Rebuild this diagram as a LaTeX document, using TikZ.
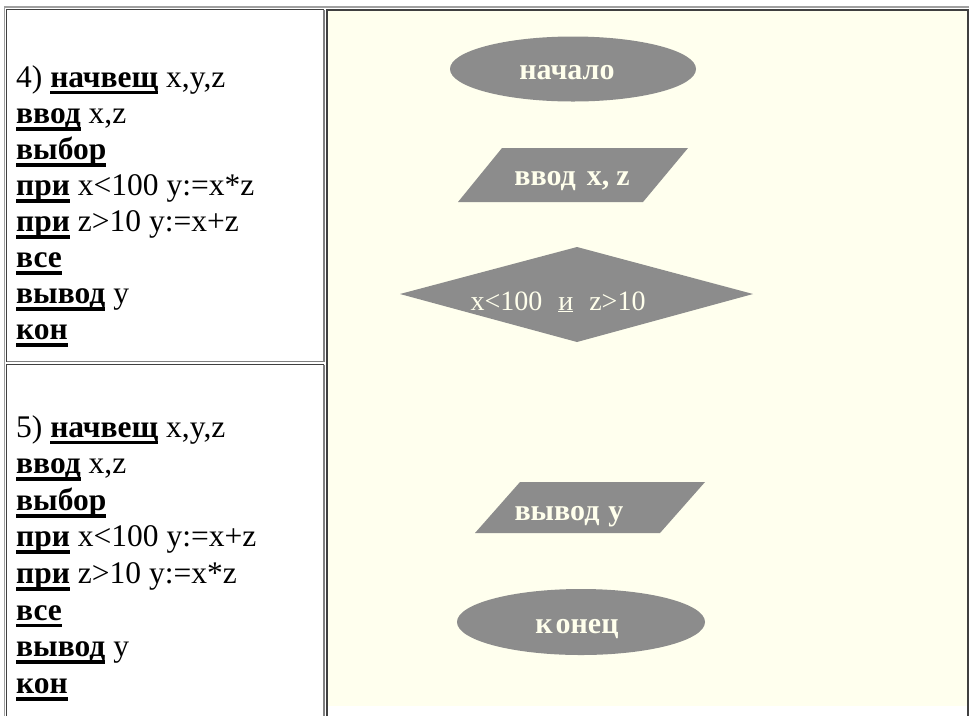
\documentclass[tikz,border=0pt]{standalone}
\usepackage{fontspec}
\setmainfont{Liberation Serif}
\definecolor{bgyellow}{RGB}{255,255,238}
\definecolor{shapegray}{RGB}{140,140,140}
\definecolor{shapetxt}{RGB}{255,255,236}
\definecolor{borderdark}{RGB}{64,64,64}
\definecolor{bordermid}{RGB}{128,128,128}
\definecolor{borderlight}{RGB}{160,160,160}
\newcommand\kw[1]{\sbox0{\bfseries #1}\rlap{\usebox0}\rule[-7.4pt]{\wd0}{3.8pt}}
\begin{document}
\begin{tikzpicture}[x=1pt,y=-1pt,
  codeline/.style={anchor=base west, inner sep=0pt, font=\fontsize{31.5}{36}\selectfont},
  shapetext/.style={anchor=base, inner sep=0pt, text=shapetxt, font=\fontsize{30}{30}\selectfont\bfseries},
  condtext/.style={anchor=base, inner sep=0pt, text=shapetxt, font=\fontsize{28}{28}\selectfont},
  shapefill/.style={fill=shapegray},
  darkline/.style={draw=borderdark, line width=1.6pt},
  midline/.style={draw=bordermid, line width=1.6pt},
  lightline/.style={draw=borderlight, line width=1.4pt}]
\useasboundingbox (0,0) rectangle (969,716);
\fill[white] (0,0) rectangle (969,716);
% right cell background
\fill[bgyellow] (328,10.3) rectangle (967,706);
% outer table edge
\draw[lightline] (4.5,716) -- (4.5,7) -- (969,7);
% left top cell
\draw[darkline] (6.5,361.5) -- (6.5,9.5) -- (324,9.5);
\draw[midline] (6.5,361.5) -- (324,361.5) -- (324,9.5);
% left bottom cell
\draw[darkline] (6.5,716) -- (6.5,364.5) -- (324,364.5);
\draw[midline] (324,364.5) -- (324,716);
% right cell
\draw[darkline, line width=2pt] (327,716) -- (327,9.5) -- (968,9.5) -- (968,716);

% code text, block 4
\node[codeline] (a1) at (16,87)    {4) \kw{начвещ} x,y,z};
\node[codeline] (a2) at (16,123.1) {\kw{ввод} x,z};
\node[codeline] (a3) at (16,159.2) {\kw{выбор}};
\node[codeline] (a4) at (16,195.3) {\kw{при} x<100 y:=x*z};
\node[codeline] (a5) at (16,231.4) {\kw{при} z>10 y:=x+z};
\node[codeline] (a6) at (16,267.5) {\kw{все}};
\node[codeline] (a7) at (16,303.6) {\kw{вывод} y};
\node[codeline] (a8) at (16,339.7) {\kw{кон}};
% code text, block 5
\node[codeline] (b1) at (16,437)   {5) \kw{начвещ} x,y,z};
\node[codeline] (b2) at (16,473.6) {\kw{ввод} x,z};
\node[codeline] (b3) at (16,510.2) {\kw{выбор}};
\node[codeline] (b4) at (16,546.8) {\kw{при} x<100 y:=x+z};
\node[codeline] (b5) at (16,583.4) {\kw{при} z>10 y:=x*z};
\node[codeline] (b6) at (16,620)   {\kw{все}};
\node[codeline] (b7) at (16,656.6) {\kw{вывод} y};
\node[codeline] (b8) at (16,693.2) {\kw{кон}};

% flowchart shapes
\fill[shapefill] (573,69) ellipse [x radius=123, y radius=32.5];
\fill[shapefill] (502,148) -- (688,148) -- (643,202) -- (458,202) -- cycle;
\fill[shapefill] (400,294) -- (577,247) -- (753,294) -- (577,342) -- cycle;
\fill[shapefill] (520,482) -- (705,482) -- (660,533) -- (475,533) -- cycle;
\fill[shapefill] (581,622) ellipse [x radius=124, y radius=33];

\node[shapetext] (start) at (567,79)  {начало};
\node[shapetext] (input) at (572,185) {ввод\hspace{11pt}x,\hspace{7pt}z};
\node[condtext]  (cond)  at (558,310) {x<100\hspace{16pt}\underline{и}\hspace{16pt}z>10};
\node[shapetext] (output) at (569,520) {вывод\hspace{9pt}y};
\node[shapetext] (stop)  at (577,633) {к\hspace{3pt}онец};
\end{tikzpicture}
\end{document}
